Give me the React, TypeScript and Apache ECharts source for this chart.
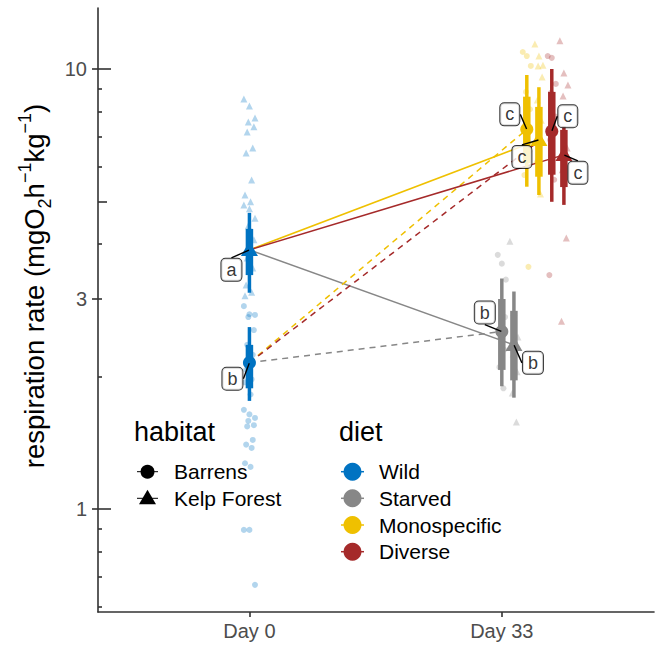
import React, { useEffect, useRef } from "react";
import * as echarts from "echarts";

// ---------- data ----------
const dayLabels = ["Day 0", "Day 33"];
const diets = ["Wild", "Starved", "Monospecific", "Diverse"];
const habitats = ["Barrens", "Kelp Forest"];
const dietColors = ["#0073C2", "#878787", "#EFC000", "#A52A2A"];

// summary (median + 66% and 95% intervals) per group
const sumDay = [0, 0, 1, 1, 1, 1, 1, 1];
const sumDiet = [0, 0, 1, 1, 2, 2, 3, 3];
const sumHabitat = [0, 1, 0, 1, 0, 1, 0, 1];
const sumMedian = [2.15, 3.88, 2.53, 2.36, 7.29, 6.9, 7.22, 6.38];
const sumInnerLo = [1.88, 3.4, 2.07, 1.96, 6.11, 5.69, 5.75, 5.39];
const sumInnerHi = [2.36, 4.33, 3.0, 2.82, 8.65, 8.2, 8.87, 7.27];
const sumOuterLo = [1.76, 3.1, 1.9, 1.79, 5.4, 5.17, 4.99, 4.91];
const sumOuterHi = [2.59, 4.71, 3.34, 3.12, 9.69, 9.09, 10.0, 7.42];
const sumLetter = ["b", "a", "b", "b", "c", "c", "c", "c"];

// raw observations per group (same order as summary groups)
const wildBarrens = [2.89, 2.77, 2.76, 2.73, 2.55, 2.36, 2.24, 2.07, 1.97, 1.94, 1.82, 1.68, 1.64, 1.61, 1.585, 1.55, 1.54, 1.435, 1.4, 1.376, 1.27, 1.246, 0.896, 0.896, 0.672];
const wildKelp = [8.55, 8.24, 7.74, 7.58, 7.39, 7.19, 6.61, 6.44, 5.59, 5.17, 4.99, 4.91, 4.81, 4.58, 4.4, 4.09, 3.72, 3.53, 3.23, 3.11, 3.05];
const starvedBarrens = [3.78, 3.61, 3.32, 2.95, 2.73, 2.45, 2.3, 2.1, 1.88];
const starvedKelp = [4.06, 2.8, 2.46, 2.25, 2.05, 1.835, 1.577];
const monoBarrens = [10.93, 10.7, 10.16, 8.87, 8.1, 7.45, 6.5, 5.74, 3.55];
const monoKelp = [11.4, 10.7, 10.2, 10.16, 9.59, 8.5, 7.65, 6.2, 5.2];
const diverseBarrens = [10.7, 10.6, 9.25, 8.82, 7.8, 6.9, 5.6, 3.4];
const diverseKelp = [11.6, 9.79, 9.2, 8.68, 6.61, 5.9, 4.13, 2.67];
const rawGroups = [wildBarrens, wildKelp, starvedBarrens, starvedKelp, monoBarrens, monoKelp, diverseBarrens, diverseKelp];

// axis
const yMajorTicks = [1, 3, 10];
const yLongTicks = [1, 10];
const yMidTicks = [5];
const yShortTicks = [0.6, 0.7, 0.8, 0.9, 2, 3, 4, 6, 7, 8, 9];
const xTicks = [0, 1];

// ---------- layout / style ----------
const FONT = "'Liberation Sans', Arial, Helvetica, sans-serif";
const Y_MIN = 0.583;
const Y_MAX = 13.76;
const X_MIN = -0.6;
const X_MAX = 1.603;
const AXIS_COLOR = "#333333";
const labelOffsets = [
  [-17, 16],
  [-18, 20],
  [-17, -19],
  [19, 18],
  [-17, -15],
  [-17, 17],
  [16, -15],
  [14, 18],
];

const groupX = (i: number) =>
  sumDay[i] + (sumDay[i] === 1 ? (sumDiet[i] - 1) * 0.099 + sumHabitat[i] * 0.048 : 0);
const jitter = (i: number, spread: number) => ((((i * 5) % 11) / 10) - 0.5) * 2 * spread;

function buildOption() {
  const yBase: any = {
    type: "log",
    logBase: 10,
    min: Y_MIN,
    max: Y_MAX,
    gridIndex: 0,
    position: "left",
    splitLine: { show: false },
    minorTick: { show: false },
    minorSplitLine: { show: false },
  };
  const tickStyle = { color: AXIS_COLOR, width: 1.6 };
  const innerAxis = (vals: number[], len: number) => ({
    ...yBase,
    axisLine: { show: false, onZero: false },
    axisTick: { show: true, inside: true, length: len, customValues: vals, lineStyle: tickStyle },
    axisLabel: { show: false },
  });

  const series: any[] = [];

  // raw points
  rawGroups.forEach((vals, g) => {
    const spread = sumDay[g] === 0 ? 0.022 : 0.016;
    series.push({
      type: "scatter",
      name: diets[sumDiet[g]] + " " + habitats[sumHabitat[g]],
      data: vals.map((v, i) => [groupX(g) + jitter(i, spread), v]),
      symbol: sumHabitat[g] === 0 ? "circle" : "triangle",
      symbolSize: sumHabitat[g] === 0 ? 6 : 7,
      itemStyle: { color: dietColors[sumDiet[g]], opacity: 0.3 },
      silent: true,
      z: 1,
    });
  });

  // connecting lines day 0 -> day 33
  for (let g = 0; g < sumDay.length; g++) {
    if (sumDay[g] !== 1) continue;
    const from = sumHabitat[g]; // day-0 group with same habitat
    series.push({
      type: "line",
      data: [
        [groupX(from), sumMedian[from]],
        [groupX(g), sumMedian[g]],
      ],
      symbol: "none",
      showSymbol: false,
      lineStyle: {
        color: dietColors[sumDiet[g]],
        width: 1.5,
        type: sumHabitat[g] === 0 ? [6, 5] : "solid",
      },
      silent: true,
      z: 2,
    });
  }

  // point intervals
  series.push({
    type: "custom",
    data: sumMedian.map((m, i) => [groupX(i), m, sumInnerLo[i], sumInnerHi[i], sumOuterLo[i], sumOuterHi[i], i]),
    encode: { x: 0, y: [1, 2, 3, 4, 5] },
    renderItem: (params: any, api: any) => {
      const x = api.value(0);
      const idx = api.value(6);
      const color = dietColors[sumDiet[idx]];
      const pm = api.coord([x, api.value(1)]);
      const pil = api.coord([x, api.value(2)]);
      const pih = api.coord([x, api.value(3)]);
      const pol = api.coord([x, api.value(4)]);
      const poh = api.coord([x, api.value(5)]);
      const children: any[] = [
        { type: "line", shape: { x1: pm[0], y1: pol[1], x2: pm[0], y2: poh[1] }, style: { stroke: color, lineWidth: 3.5 } },
        { type: "line", shape: { x1: pm[0], y1: pil[1], x2: pm[0], y2: pih[1] }, style: { stroke: color, lineWidth: 7.5 } },
      ];
      if (sumHabitat[idx] === 0) {
        children.push({ type: "circle", shape: { cx: pm[0], cy: pm[1], r: 6.5 }, style: { fill: color } });
      } else {
        const s = 8.5;
        children.push({
          type: "polygon",
          shape: { points: [[pm[0], pm[1] - s], [pm[0] - s, pm[1] + s * 0.72], [pm[0] + s, pm[1] + s * 0.72]] },
          style: { fill: color },
        });
      }
      return { type: "group", children };
    },
    silent: true,
    z: 3,
  });

  // letter labels
  series.push({
    type: "scatter",
    data: sumMedian.map((m, i) => [groupX(i), m]),
    symbolSize: 1,
    itemStyle: { color: "rgba(0,0,0,0)" },
    label: {
      show: true,
      position: "inside",
      formatter: (p: any) => sumLetter[p.dataIndex],
      fontFamily: FONT,
      fontSize: 18,
      lineHeight: 18,
      color: "#000",
      backgroundColor: "#fff",
      borderColor: "#000",
      borderWidth: 1,
      borderRadius: 4,
      padding: [2, 5, 2, 5],
    },
    labelLayout: (p: any) => ({ dx: labelOffsets[p.dataIndex][0], dy: labelOffsets[p.dataIndex][1] }),
    labelLine: { show: true, lineStyle: { color: "#000", width: 1.4 } },
    silent: true,
    z: 5,
  });

  // legend graphics
  const legendText = (text: string, x: number, y: number, size: number) => ({
    type: "text",
    x,
    y,
    style: { text, fontFamily: FONT, fontSize: size, fill: "#000", verticalAlign: "middle", align: "left" },
    silent: true,
  });
  const rowY = [471.7, 498.3, 525, 551.7];
  const graphics: any[] = [
    legendText("habitat", 134, 432, 27),
    legendText("diet", 339, 432, 27),
  ];
  habitats.forEach((h, i) => {
    const cy = rowY[i];
    graphics.push({ type: "line", shape: { x1: 137, y1: cy, x2: 158, y2: cy }, style: { stroke: "#000", lineWidth: 1 }, silent: true });
    if (i === 0) {
      graphics.push({ type: "circle", shape: { cx: 147.5, cy, r: 7 }, style: { fill: "#000" }, silent: true });
    } else {
      graphics.push({
        type: "polygon",
        shape: { points: [[147.5, cy - 8.5], [139, cy + 6], [156, cy + 6]] },
        style: { fill: "#000" },
        silent: true,
      });
    }
    graphics.push(legendText(h, 174, cy, 21));
  });
  diets.forEach((d, i) => {
    const cy = rowY[i];
    graphics.push({ type: "line", shape: { x1: 341, y1: cy, x2: 364, y2: cy }, style: { stroke: dietColors[i], lineWidth: 1.5 }, silent: true });
    graphics.push({ type: "circle", shape: { cx: 352.5, cy, r: 9 }, style: { fill: dietColors[i] }, silent: true });
    graphics.push(legendText(d, 379, cy, 21));
  });

  return {
    animation: false,
    backgroundColor: "#ffffff",
    textStyle: { fontFamily: FONT },
    grid: { left: 98, right: 2, top: 8, bottom: 34, containLabel: false, outerBoundsMode: "none" },
    xAxis: {
      type: "value",
      min: X_MIN,
      max: X_MAX,
      splitLine: { show: false },
      axisLine: { show: true, onZero: false, lineStyle: tickStyle },
      axisTick: { show: true, length: 5, customValues: xTicks, lineStyle: tickStyle },
      axisLabel: {
        customValues: xTicks,
        formatter: (v: number) => dayLabels[Math.round(v)],
        color: "#4D4D4D",
        fontSize: 20,
        fontFamily: FONT,
        margin: 9,
      },
    },
    yAxis: [
      {
        ...yBase,
        axisLine: { show: true, onZero: false, lineStyle: tickStyle },
        axisTick: { show: true, length: 6, customValues: yMajorTicks, lineStyle: tickStyle },
        axisLabel: {
          customValues: yMajorTicks,
          formatter: (v: number) => String(Math.round(v)),
          color: "#4D4D4D",
          fontSize: 20,
          fontFamily: FONT,
          margin: 11,
        },
        name: "{b|respiration rate (mgO}{sub|2}{b|h}{sup|−1}{b|kg}{sup|−1}{b|)}",
        nameLocation: "middle",
        nameRotate: 90,
        nameGap: 41,
        nameTextStyle: {
          fontFamily: FONT,
          fontSize: 27.5,
          color: "#000",
          padding: [0, 0, 0, 48],
          rich: {
            b: { fontFamily: FONT, fontSize: 27.5, lineHeight: 38, color: "#000" },
            sub: { fontFamily: FONT, fontSize: 18, lineHeight: 18, verticalAlign: "bottom", color: "#000" },
            sup: { fontFamily: FONT, fontSize: 18, lineHeight: 18, verticalAlign: "top", color: "#000" },
          },
        },
      },
      innerAxis(yLongTicks, 13),
      innerAxis(yMidTicks, 9),
      innerAxis(yShortTicks, 4),
    ],
    series,
    graphic: graphics,
  };
}

export default function App() {
  const ref = useRef<HTMLDivElement>(null);
  useEffect(() => {
    const chart = echarts.init(ref.current!, null, { renderer: "svg" });
    chart.setOption(buildOption() as any);
    return () => chart.dispose();
  }, []);
  return (
    <div
      ref={ref}
      style={{ position: "fixed", left: 0, top: 0, width: 656, height: 646, background: "#fff" }}
    />
  );
}
